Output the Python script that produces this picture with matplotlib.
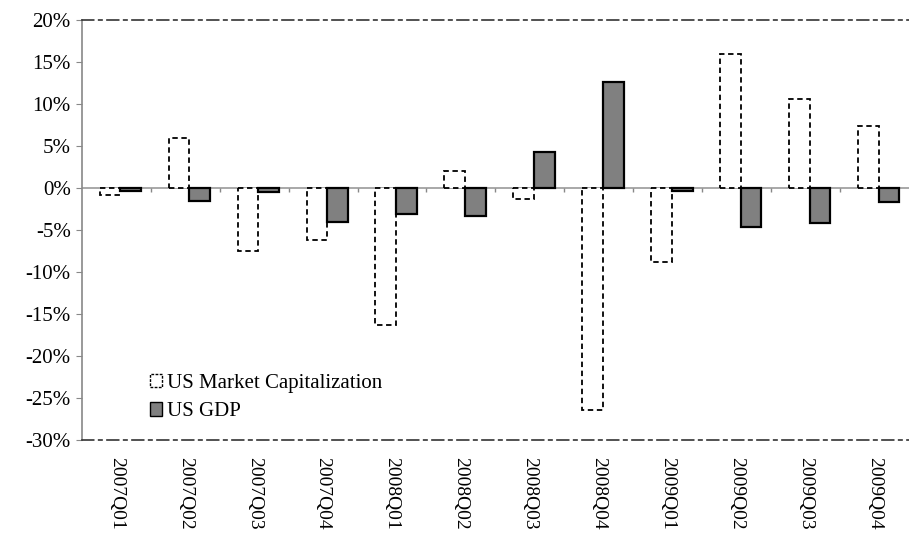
import numpy as np
import matplotlib.pyplot as plt
from matplotlib.patches import Patch

plt.rcParams['font.family'] = ['Liberation Serif', 'DejaVu Serif']

quarters = ['2007Q01', '2007Q02', '2007Q03', '2007Q04',
            '2008Q01', '2008Q02', '2008Q03', '2008Q04',
            '2009Q01', '2009Q02', '2009Q03', '2009Q04']
market_cap = [-0.8, 6.0, -7.5, -6.2, -16.3, 2.0, -1.3, -26.4, -8.8, 16.0, 10.6, 7.4]
gdp = [-0.3, -1.5, -0.5, -4.0, -3.1, -3.3, 4.3, 12.6, -0.3, -4.6, -4.1, -1.7]
yticks = [20, 15, 10, 5, 0, -5, -10, -15, -20, -25, -30]

fig = plt.figure(figsize=(9.09, 5.46), dpi=100)
ax = fig.add_axes([0.090, 0.194, 0.910, 0.769])

x = np.arange(len(quarters))
w = 0.30
ax.bar(x - w / 2 + 0.06, market_cap, w, color='white', edgecolor='black',
       linestyle=(0, (3, 2)), linewidth=1.3, zorder=3)
ax.bar(x + w / 2 + 0.06, gdp, w, color='#808080', edgecolor='black',
       linewidth=1.6, zorder=3)

# zero line with small ticks between categories
ax.axhline(0, color='#999999', linewidth=1.2, zorder=2)
ax.vlines(x[:-1] + 0.5, -0.5, 0, color='#888888', linewidth=1, zorder=2)

ax.set_xlim(-0.5, len(quarters) - 0.5)
ax.set_ylim(-30, 20)
ax.set_yticks(yticks)
ax.set_yticklabels([f'{v}%' for v in yticks], fontsize=15)
ax.set_xticks(x)
ax.set_xticklabels(quarters, rotation=270, fontsize=14)
ax.tick_params(axis='x', length=0, pad=12)
ax.tick_params(axis='y', length=4, color='#888888', pad=4)

ax.spines['right'].set_visible(False)
ax.spines['left'].set_color('#888888')
ax.spines['left'].set_linewidth(1.2)
for s in ['top', 'bottom']:
    ax.spines[s].set_linestyle((0, (7, 3, 2, 3)))
    ax.spines[s].set_color('#333333')
    ax.spines[s].set_linewidth(1.2)

handles = [Patch(facecolor='white', edgecolor='black', linestyle=(0, (2, 1)), label='US Market Capitalization'),
           Patch(facecolor='#808080', edgecolor='black', label='US GDP')]
ax.legend(handles=handles, loc='lower left', bbox_to_anchor=(0.06, 0.0), frameon=False,
          fontsize=15, handlelength=0.55, handleheight=0.6, handletextpad=0.25,
          labelspacing=0.45)

fig.savefig('out.png', dpi=100)
